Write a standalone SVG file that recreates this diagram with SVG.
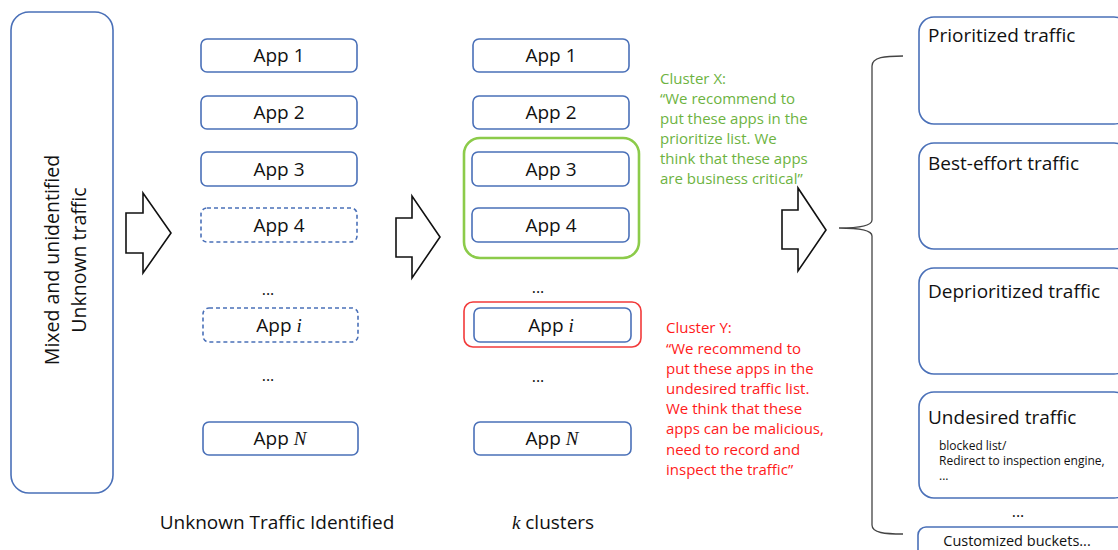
<svg xmlns="http://www.w3.org/2000/svg" width="1118" height="550" viewBox="0 0 1118 550">
  <style>
    text { font-family: "Open Sans", "Liberation Sans", sans-serif; fill: #111; }
    .box { fill: #fff; stroke: #4A70B8; stroke-width: 1.6; }
    .dash { stroke-dasharray: 4 3; }
    .app { font-size: 19px; text-anchor: middle; }
    .math { font-family: "Liberation Serif", serif; font-style: italic; }
    .rot { font-size: 19.5px; text-anchor: middle; }
    .big { font-size: 19px; }
    .lbl { font-size: 19px; text-anchor: middle; }
    .green { fill: #6DB33F; font-size: 15px; }
    .red { fill: #FF1A1A; font-size: 15px; }
    .small { font-size: 12px; }
    .arrow { fill: #fff; stroke: #111; stroke-width: 1.6; stroke-linejoin: miter; }
    .dots { font-size: 16px; text-anchor: middle; }
  </style>

  <!-- input traffic -->
  <g id="mixed-traffic">
    <rect class="box" x="11" y="12" width="102" height="481" rx="18"/>
    <text class="rot" transform="translate(59,260) rotate(-90)">Mixed and unidentified</text>
    <text class="rot" transform="translate(86,260) rotate(-90)">Unknown traffic</text>
  </g>

  <!-- block arrows between stages and the bracket -->
  <g id="connectors">
    <polygon class="arrow" points="126,213 143,213 143,193 171,233 143,273 143,253 126,253"/>
    <polygon class="arrow" points="396,218 412,218 412,196 440,237 412,278 412,257 396,257"/>
    <polygon class="arrow" points="782,210 798,210 798,188 826,230 798,271 798,249 782,249"/>
    <path d="M903,56 C885,56 872,57 872,66 L872,220 C872,226 858,228 839,228 C858,228 872,230 872,236 L872,525 C872,533 885,534 903,534" fill="none" stroke="#444" stroke-width="1.3"/>
  </g>

  <!-- identified apps -->
  <g id="identified-apps">
    <g id="u-app1"><rect class="box" x="201" y="39" width="156" height="33" rx="6"/><text class="app" x="279" y="62">App 1</text></g>
    <g id="u-app2"><rect class="box" x="201" y="96" width="156" height="33" rx="6"/><text class="app" x="279" y="119">App 2</text></g>
    <g id="u-app3"><rect class="box" x="201" y="152" width="156" height="34" rx="6"/><text class="app" x="279" y="176">App 3</text></g>
    <g id="u-app4"><rect class="box dash" x="201" y="208" width="156" height="34" rx="6"/><text class="app" x="279" y="232">App 4</text></g>
    <text class="dots" x="268" y="295">...</text>
    <g id="u-appi"><rect class="box dash" x="203" y="308" width="155" height="34" rx="6"/><text class="app" x="279" y="332">App <tspan class="math">i</tspan></text></g>
    <text class="dots" x="268" y="381">...</text>
    <g id="u-appN"><rect class="box" x="203" y="422" width="155" height="33" rx="6"/><text class="app" x="280" y="445">App <tspan class="math">N</tspan></text></g>
    <text class="lbl" x="277" y="529">Unknown Traffic Identified</text>
  </g>

  <!-- clustered apps -->
  <g id="clusters">
    <g id="cluster-x"><rect x="464" y="138" width="175" height="120" rx="16" fill="none" stroke="#8CCB4A" stroke-width="2.6"/></g>
    <g id="cluster-y"><rect x="464" y="302" width="177" height="45" rx="9" fill="none" stroke="#F23A3A" stroke-width="1.6"/></g>
    <g id="k-app1"><rect class="box" x="473" y="39" width="156" height="33" rx="6"/><text class="app" x="551" y="62">App 1</text></g>
    <g id="k-app2"><rect class="box" x="473" y="96" width="156" height="33" rx="6"/><text class="app" x="551" y="119">App 2</text></g>
    <g id="k-app3"><rect class="box" x="472" y="152" width="157" height="34" rx="6"/><text class="app" x="551" y="176">App 3</text></g>
    <g id="k-app4"><rect class="box" x="472" y="208" width="157" height="34" rx="6"/><text class="app" x="551" y="232">App 4</text></g>
    <text class="dots" x="538" y="293">...</text>
    <g id="k-appi"><rect class="box" x="474" y="308" width="157" height="34" rx="6"/><text class="app" x="551" y="332">App <tspan class="math">i</tspan></text></g>
    <text class="dots" x="538" y="382">...</text>
    <g id="k-appN"><rect class="box" x="474" y="422" width="157" height="33" rx="6"/><text class="app" x="552" y="445">App <tspan class="math">N</tspan></text></g>
    <text class="lbl" x="553" y="529"><tspan class="math">k</tspan> clusters</text>
  </g>

  <!-- recommendations -->
  <g id="note-x">
    <text class="green" x="660" y="84">Cluster X:</text>
    <text class="green" x="660" y="104">“We recommend to</text>
    <text class="green" x="660" y="124">put these apps in the</text>
    <text class="green" x="660" y="144">prioritize list. We</text>
    <text class="green" x="660" y="164">think that these apps</text>
    <text class="green" x="660" y="184">are business critical”</text>
  </g>
  <g id="note-y">
    <text class="red" x="666" y="333">Cluster Y:</text>
    <text class="red" x="666" y="354">“We recommend to</text>
    <text class="red" x="666" y="374">put these apps in the</text>
    <text class="red" x="666" y="394">undesired traffic list.</text>
    <text class="red" x="666" y="414">We think that these</text>
    <text class="red" x="666" y="434">apps can be malicious,</text>
    <text class="red" x="666" y="455">need to record and</text>
    <text class="red" x="666" y="475">inspect the traffic”</text>
  </g>

  <!-- traffic buckets -->
  <g id="prioritized"><rect class="box" x="919" y="17" width="210" height="107" rx="15"/><text class="big" x="928" y="42">Prioritized traffic</text></g>
  <g id="best-effort"><rect class="box" x="919" y="143" width="210" height="106" rx="15"/><text class="big" x="928" y="170">Best-effort traffic</text></g>
  <g id="deprioritized"><rect class="box" x="919" y="268" width="210" height="106" rx="15"/><text class="big" x="928" y="298">Deprioritized traffic</text></g>
  <g id="undesired">
    <rect class="box" x="919" y="392" width="210" height="106" rx="15"/>
    <text class="big" x="928" y="424">Undesired traffic</text>
    <text class="small" x="939" y="450">blocked list/</text>
    <text class="small" x="939" y="465">Redirect to inspection engine,</text>
    <text class="small" x="939" y="480">...</text>
  </g>
  <text class="dots" x="1018" y="517">...</text>
  <g id="customized"><rect class="box" x="918" y="527" width="210" height="40" rx="8"/><text x="1017" y="546" font-size="14.5" text-anchor="middle">Customized buckets...</text></g>
</svg>
